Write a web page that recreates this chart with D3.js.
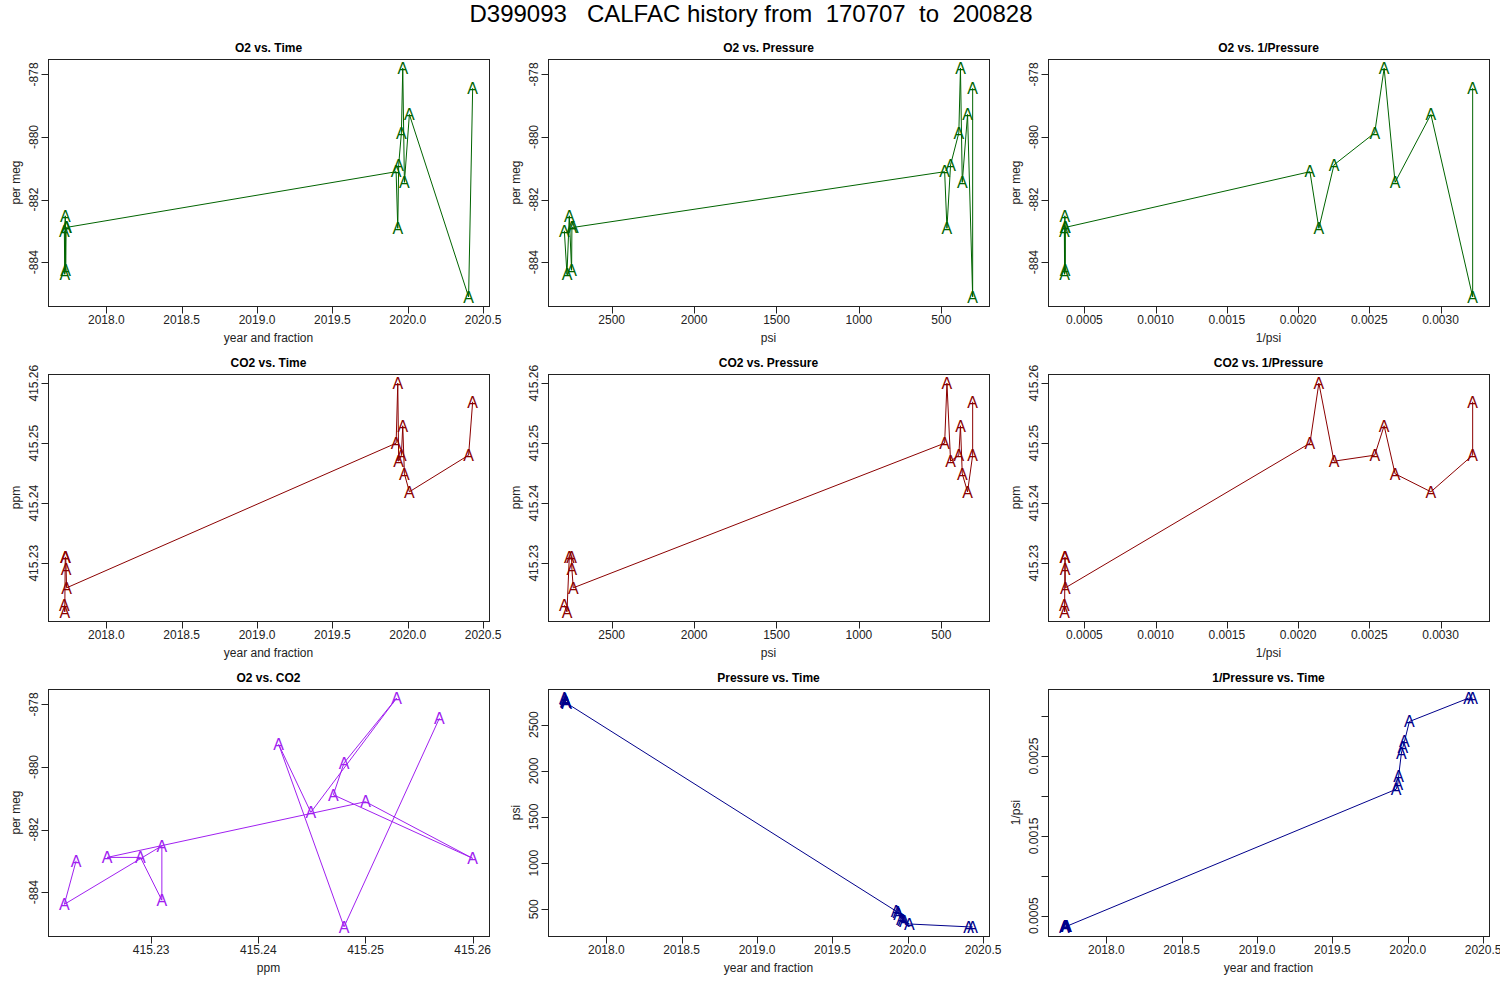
<!DOCTYPE html>
<html>
<head>
<meta charset="utf-8">
<script src="https://cdn.jsdelivr.net/npm/d3@7"></script>
<style>
  body { margin: 0; background: #fff; }
  svg { display: block; font-family: "Liberation Sans", Arial, Helvetica, sans-serif; }
</style>
</head>
<body>
<script>
// ////////// Daten (in Zeitreihenfolge) ////////////
var times = [2017.721, 2017.724, 2017.727, 2017.730, 2017.733, 2017.736,
             2019.923, 2019.934, 2019.940, 2019.958, 2019.967, 2019.978, 2020.011, 2020.404, 2020.431];
var psi   = [2787, 2771, 2757, 2743, 2741, 2733,
             480, 466, 444, 394, 384, 373, 341, 310, 310];
var o2    = [-883.00, -884.39, -882.52, -884.26, -882.89, -882.89,
             -881.11, -882.92, -880.89, -879.87, -877.80, -881.45, -879.28, -885.11, -878.44];
var co2   = [415.2230, 415.2219, 415.2310, 415.2310, 415.2290, 415.2259,
             415.2500, 415.2600, 415.2470, 415.2480, 415.2529, 415.2449, 415.2419, 415.2480, 415.2569];
var invPsi = psi.map(function(p){ return 1/p; });

var mainTitle = "D399093   CALFAC history from  170707  to  200828";

// Panels, zeilenweise
var panels = [
  {title: "O2 vs. Time",          x: times,  y: o2,     xlab: "year and fraction", ylab: "per meg", col: "#006400", xf: ".1f", yf: "d"},
  {title: "O2 vs. Pressure",      x: psi,    y: o2,     xlab: "psi",               ylab: "per meg", col: "#006400", xf: "d",   yf: "d", rev: true},
  {title: "O2 vs. 1/Pressure",    x: invPsi, y: o2,     xlab: "1/psi",             ylab: "per meg", col: "#006400", xf: ".4f", yf: "d"},
  {title: "CO2 vs. Time",         x: times,  y: co2,    xlab: "year and fraction", ylab: "ppm",     col: "#8B0000", xf: ".1f", yf: ".2f"},
  {title: "CO2 vs. Pressure",     x: psi,    y: co2,    xlab: "psi",               ylab: "ppm",     col: "#8B0000", xf: "d",   yf: ".2f", rev: true},
  {title: "CO2 vs. 1/Pressure",   x: invPsi, y: co2,    xlab: "1/psi",             ylab: "ppm",     col: "#8B0000", xf: ".4f", yf: ".2f"},
  {title: "O2 vs. CO2",           x: co2,    y: o2,     xlab: "ppm",               ylab: "per meg", col: "#A020F0", xf: ".2f", yf: "d"},
  {title: "Pressure vs. Time",    x: times,  y: psi,    xlab: "year and fraction", ylab: "psi",     col: "#00008B", xf: ".1f", yf: "d"},
  {title: "1/Pressure vs. Time",  x: times,  y: invPsi, xlab: "year and fraction", ylab: "1/psi",   col: "#00008B", xf: ".1f", yf: ".4f"}
];

// ////////////// svg //////////////
var W = 1500, H = 1000;
var boxW = 441, boxH = 247;
var left0 = 48, top0 = 59, colStep = 500, rowStep = 315;

var svg = d3.select("body").append("svg")
  .attr("width", W)
  .attr("height", H);

svg.append("text")
  .attr("x", 751)
  .attr("y", 22)
  .attr("text-anchor", "middle")
  .style("font-size", "24px")
  .style("white-space", "pre")
  .attr("xml:space", "preserve")
  .text(mainTitle);

function rPad(vals){
  // R: Bereich um 4% erweitern
  var e = d3.extent(vals);
  var d = (e[1]-e[0]) * 0.04;
  return [e[0]-d, e[1]+d];
}

function fmt(f){
  // R schreibt ein normales Minus
  var base = d3.format(f);
  return function(v){ return base(v).replace("\u2212", "-"); };
}

function hideOverlaps(labels, horizontal){
  // wie R: Beschriftungen, die sich ueberlappen, weglassen
  var lastEnd = null;
  labels.each(function(){
    var b = this.getBoundingClientRect();
    var s = horizontal ? b.left : -b.bottom;
    var e = horizontal ? b.right : -b.top;
    if (lastEnd !== null && s < lastEnd + 6) {
      d3.select(this).remove();
    } else {
      lastEnd = e;
    }
  });
}

panels.forEach(function(p, i){
  var r = Math.floor(i/3), c = i % 3;
  var x0 = left0 + c*colStep, y0 = top0 + r*rowStep;
  var g = svg.append("g").attr("transform", "translate(" + x0 + "," + y0 + ")");

  var xd = rPad(p.x);
  if (p.rev) xd = [xd[1], xd[0]];
  var xScale = d3.scaleLinear().domain(xd).range([0, boxW]);
  var yScale = d3.scaleLinear().domain(rPad(p.y)).range([boxH, 0]);

  var pts = p.x.map(function(v, k){ return {x: v, y: p.y[k]}; });

  // Linien (type = "o")
  var line = d3.line()
    .x(function(d){ return xScale(d.x); })
    .y(function(d){ return yScale(d.y); });
  g.append("path")
    .datum(pts)
    .attr("d", line)
    .attr("fill", "none")
    .attr("stroke", p.col)
    .attr("stroke-width", 1);

  // Punkte als "A"
  g.selectAll("text.pt")
    .data(pts)
    .enter()
    .append("text")
    .attr("class", "pt")
    .attr("x", function(d){ return xScale(d.x); })
    .attr("y", function(d){ return yScale(d.y); })
    .attr("dy", "0.36em")
    .attr("text-anchor", "middle")
    .attr("fill", p.col)
    .style("font-size", "16px")
    .text("A");

  // Rahmen
  g.append("rect")
    .attr("x", 0.5).attr("y", 0.5)
    .attr("width", boxW).attr("height", boxH)
    .attr("fill", "none")
    .attr("stroke", "#222")
    .attr("stroke-width", 1);

  // x-Achse
  var xt = xScale.ticks(5).filter(function(t){
    var px = xScale(t); return px >= -1 && px <= boxW + 1; });
  var xa = g.append("g").attr("transform", "translate(0," + (boxH + 0.5) + ")");
  xa.selectAll("line").data(xt).enter().append("line")
    .attr("x1", function(t){ return Math.round(xScale(t)) + 0.5; })
    .attr("x2", function(t){ return Math.round(xScale(t)) + 0.5; })
    .attr("y1", 0).attr("y2", 7)
    .attr("stroke", "#222");
  var xl = xa.selectAll("text").data(xt).enter().append("text")
    .attr("x", function(t){ return xScale(t); })
    .attr("y", 17)
    .attr("text-anchor", "middle")
    .style("font-size", "12px")
    .attr("fill", "#222")
    .text(fmt(p.xf));
  hideOverlaps(xl, true);

  // y-Achse
  var yt = yScale.ticks(5).filter(function(t){
    var py = yScale(t); return py >= -1 && py <= boxH + 1; });
  var ya = g.append("g");
  ya.selectAll("line").data(yt).enter().append("line")
    .attr("y1", function(t){ return Math.round(yScale(t)) + 0.5; })
    .attr("y2", function(t){ return Math.round(yScale(t)) + 0.5; })
    .attr("x1", 0.5).attr("x2", -6.5)
    .attr("stroke", "#222");
  var yl = ya.selectAll("text").data(yt).enter().append("text")
    .attr("transform", function(t){ return "translate(-10," + yScale(t) + ") rotate(-90)"; })
    .attr("text-anchor", "middle")
    .style("font-size", "12px")
    .attr("fill", "#222")
    .text(fmt(p.yf));
  hideOverlaps(yl, false);

  // Titel und Achsentitel
  g.append("text")
    .attr("x", boxW/2).attr("y", -7)
    .attr("text-anchor", "middle")
    .style("font-size", "12px")
    .style("font-weight", "bold")
    .text(p.title);
  g.append("text")
    .attr("x", boxW/2).attr("y", boxH + 36)
    .attr("text-anchor", "middle")
    .style("font-size", "12px")
    .attr("fill", "#222")
    .text(p.xlab);
  g.append("text")
    .attr("transform", "translate(-28," + (boxH/2) + ") rotate(-90)")
    .attr("text-anchor", "middle")
    .style("font-size", "12px")
    .attr("fill", "#222")
    .text(p.ylab);
});
</script>
</body>
</html>
